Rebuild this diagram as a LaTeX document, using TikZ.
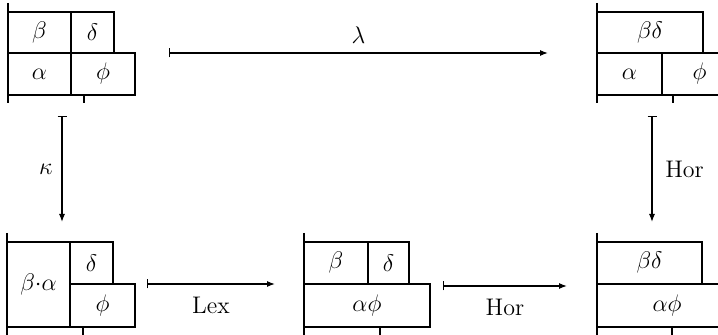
\documentclass[tikz,border=0pt]{standalone}
\usepackage{amsmath,amssymb}
\usepackage{tikz}
\usetikzlibrary{positioning,arrows.meta}
\tikzset{
  cell/.style 2 args={
    draw,
    line width=0.8pt,
    inner sep=0pt,
    outer sep=0pt,
    anchor=north west,
    minimum width=#1*0.5pt,
    minimum height=#2*0.5pt,
    font=\large
  },
  wall/.style={line width=1.3pt},
  tick/.style={line width=0.7pt},
  mapsto/.style={{Bar[width=4.5pt]}-{Latex[length=4pt,width=3pt]},line width=0.6pt},
  label/.style={font=\large}
}
\begin{document}
\begin{tikzpicture}[x=0.5pt,y=-0.5pt]
    \useasboundingbox (0,0) rectangle (718,335);
    % top left
    \node[cell={63}{41}] (betaA) at (8,12) {$\beta$};
    \node[cell={43}{41}] (deltaA) at (betaA.north east) {$\delta$};
    \node[cell={63}{42}] (alphaA) at (betaA.south west) {$\alpha$};
    \node[cell={64}{42}] (phiA) at (alphaA.north east) {$\phi$};
    \draw[wall] (8,3) -- (8,103);
    \draw[tick] (84,95) -- (84,103);
    % top right
    \node[cell={106}{41}] (bdB) at (597,12) {$\beta\delta$};
    \node[cell={65}{42}] (alphaB) at (bdB.south west) {$\alpha$};
    \node[cell={75}{42}] (phiB) at (alphaB.north east) {$\phi$};
    \draw[wall] (597,3) -- (597,103);
    \draw[tick] (673,95) -- (673,103);
    % bottom left
    \node[cell={63}{85}] (baC) at (7,242) {$\beta{\cdot}\alpha$};
    \node[cell={43}{42}] (deltaC) at (baC.north east) {$\delta$};
    \node[cell={65}{43}] (phiC) at (deltaC.south west) {$\phi$};
    \draw[wall] (7,233) -- (7,340);
    \draw[tick] (83,327) -- (83,340);
    % bottom middle
    \node[cell={64}{42}] (betaD) at (304,242) {$\beta$};
    \node[cell={41}{42}] (deltaD) at (betaD.north east) {$\delta$};
    \node[cell={126}{43}] (afD) at (betaD.south west) {$\alpha\phi$};
    \draw[wall] (304,233) -- (304,340);
    \draw[tick] (380,327) -- (380,340);
    % bottom right
    \node[cell={105}{42}] (bdE) at (597,242) {$\beta\delta$};
    \node[cell={140}{43}] (afE) at (bdE.south west) {$\alpha\phi$};
    \draw[wall] (597,233) -- (597,340);
    \draw[tick] (672,327) -- (672,340);
    % arrow ends
    \coordinate (lamS) at (169,53);
    \coordinate (lamT) at (548,53);
    \coordinate (kapS) at (62,116);
    \coordinate (kapT) at (62,222);
    \coordinate (horS) at (652,116);
    \coordinate (horT) at (652,222);
    \coordinate (lexS) at (147,284);
    \coordinate (lexT) at (275,284);
    \coordinate (hbS) at (443,286);
    \coordinate (hbT) at (567,286);
    \draw[mapsto] (lamS) -- node[above=1pt,font=\large] (lam) {$\lambda$} (lamT);
    \draw[mapsto] (kapS) -- node[left=1pt,font=\large] (kap) {$\kappa$} (kapT);
    \draw[mapsto] (horS) -- node[right=3pt,label] (horR) {Hor} (horT);
    \draw[mapsto] (lexS) -- node[below=3pt,label] (lex) {Lex} (lexT);
    \draw[mapsto] (hbS) -- node[below=3pt,label] (horB) {Hor} (hbT);
  \end{tikzpicture}
\end{document}
